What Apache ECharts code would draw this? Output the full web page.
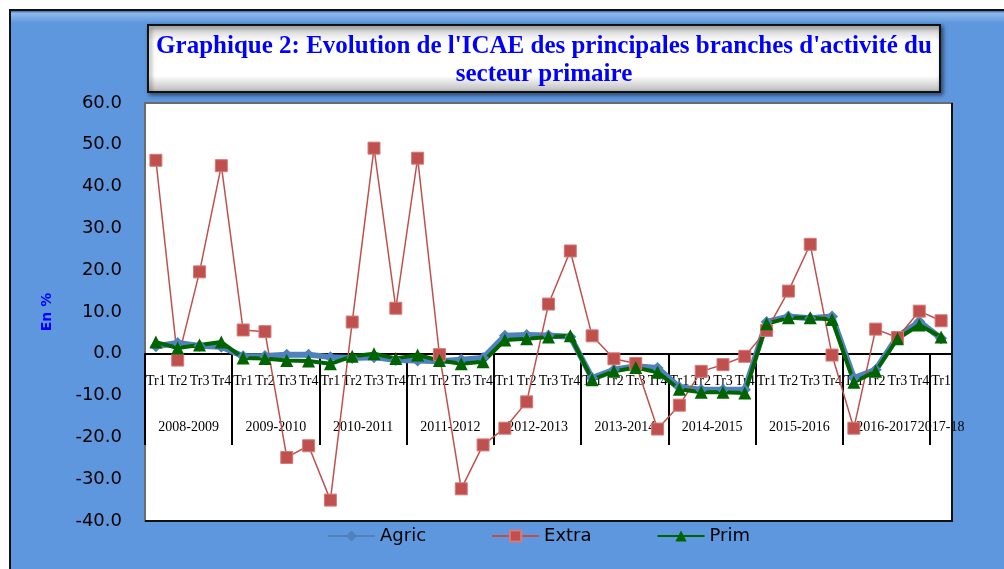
<!DOCTYPE html>
<html>
<head>
<meta charset="utf-8">
<script src="https://cdn.jsdelivr.net/npm/echarts@6/dist/echarts.min.js"></script>
<style>
  html, body { margin: 0; padding: 0; background: #fff; }
  #main { width: 1004px; height: 569px; }
</style>
</head>
<body>
<div id="main"></div>
<script>
// trimestres (axe du bas, niveau 1)
var quarters = ['Tr1','Tr2','Tr3','Tr4','Tr1','Tr2','Tr3','Tr4','Tr1','Tr2','Tr3','Tr4',
                'Tr1','Tr2','Tr3','Tr4','Tr1','Tr2','Tr3','Tr4','Tr1','Tr2','Tr3','Tr4',
                'Tr1','Tr2','Tr3','Tr4','Tr1','Tr2','Tr3','Tr4','Tr1','Tr2','Tr3','Tr4','Tr1'];
// campagnes (axe du bas, niveau 2)
var years = ['2008-2009','2009-2010','2010-2011','2011-2012','2012-2013',
             '2013-2014','2014-2015','2015-2016','2016-2017','2017-18'];

var agric = [1.8, 2.6, 1.9, 1.7, -0.6, -0.5, -0.2, -0.2, -0.8, -1.0, -0.8, -1.5,
             -1.6, -1.8, -1.4, -1.0, 4.3, 4.5, 4.4, 4.1, -5.8, -3.8, -3.0, -3.4,
             -8.0, -8.6, -8.6, -8.6, 7.6, 8.9, 8.5, 8.9, -5.8, -3.8, 4.1, 7.7, 3.7];
var extra = [46.3, -1.5, 19.6, 45.0, 5.7, 5.3, -24.8, -22.0, -35.0, 7.6, 49.2, 10.9,
             46.8, -0.2, -32.3, -21.8, -17.8, -11.5, 11.9, 24.6, 4.3, -1.2, -2.3, -18.0,
             -12.3, -4.2, -2.6, -0.6, 5.6, 15.0, 26.2, -0.3, -17.8, 5.9, 3.9, 10.2, 7.9];
var prim  = [2.8, 1.4, 2.1, 2.8, -1.0, -1.1, -1.6, -1.7, -2.4, -0.6, 0.0, -1.1,
             -0.3, -1.6, -2.4, -1.9, 3.3, 3.6, 4.0, 4.3, -6.2, -4.2, -3.3, -4.4,
             -8.5, -9.2, -9.2, -9.4, 7.2, 8.6, 8.6, 8.2, -6.8, -4.2, 3.6, 6.9, 4.0];

var yTicks = { min: -40, max: 60, step: 10 };

// second niveau : 2 demi-cases par trimestre, separateurs tous les 8
var halfSlots = [];
for (var i = 0; i <= quarters.length * 2; i++) halfSlots.push(String(i));
function yearAt(idx) {
    if (idx % 8 === 4 && idx < 72) return years[(idx - 4) / 8];
    if (idx === 73) return years[9];
    return '';
}

var blue = '#5e97de';
var serif = '"Liberation Serif", "DejaVu Serif", serif';
var myChart = echarts.init(document.getElementById('main'));

var option = {
    backgroundColor: blue,
    animation: false,
    graphic: [
        { type: 'rect', shape: { x: 0, y: 0, width: 1004, height: 10 }, style: { fill: '#fff' } },
        { type: 'rect', shape: { x: 0, y: 0, width: 10, height: 569 }, style: { fill: '#fff' } },
        { type: 'rect', shape: { x: 11, y: 11, width: 993, height: 12 },
          style: { fill: new echarts.graphic.LinearGradient(0, 0, 0, 1, [
              { offset: 0, color: '#3f6fae' }, { offset: 0.2, color: '#8fb8ec' }, { offset: 1, color: blue }]) } },
        { type: 'rect', shape: { x: 10, y: 10, width: 1000, height: 570 },
          style: { fill: null, stroke: '#111', lineWidth: 2 } },
        // cadre du titre
        { type: 'rect', shape: { x: 148, y: 25, width: 792, height: 67 },
          style: {
              fill: new echarts.graphic.LinearGradient(0, 0, 0, 1, [
                  { offset: 0, color: '#bfbfbf' }, { offset: 0.25, color: '#ffffff' },
                  { offset: 0.75, color: '#ffffff' }, { offset: 1, color: '#b5b5b5' }]),
              stroke: '#111', lineWidth: 2,
              shadowBlur: 4, shadowColor: 'rgba(0,0,0,0.5)', shadowOffsetX: 2, shadowOffsetY: 2
          } },
        { type: 'text', x: 544, y: 61,
          style: {
              text: "Graphique 2: Evolution de l'ICAE des principales branches d'activité du\nsecteur primaire",
              align: 'center', verticalAlign: 'middle',
              font: 'bold 25px ' + serif,
              lineHeight: 28, fill: '#0000ff'
          } },
        // bords droit et bas du trace en noir
        { type: 'polyline', shape: { points: [[952, 103], [952, 521], [145, 521]] },
          style: { stroke: '#111', lineWidth: 2, fill: null }, z: 10 }
    ],
    legend: {
        left: 327, top: 527, padding: 0,
        itemWidth: 47, itemHeight: 14, itemGap: 65,
        textStyle: { color: '#000', fontSize: 18, fontFamily: 'DejaVu Sans' },
        data: ['Agric', 'Extra', 'Prim']
    },
    grid: [
        { left: 145, right: 52, top: 103, bottom: 48, show: true,
          backgroundColor: '#fff', borderColor: '#6b6b6b', borderWidth: 2 },
        { left: 145, right: 52, top: 354, bottom: 124, show: false }
    ],
    xAxis: [
        {
            type: 'category', gridIndex: 0, data: quarters, boundaryGap: true,
            axisLine: { onZero: true, lineStyle: { color: '#000', width: 2 } },
            axisTick: { show: false },
            axisLabel: { show: false }
        },
        {
            type: 'category', gridIndex: 1, data: halfSlots, boundaryGap: false, position: 'bottom',
            axisLine: { show: false },
            axisTick: { show: true, inside: true, length: 91,
                        interval: function (idx) { return idx % 8 === 0; },
                        lineStyle: { color: '#000', width: 2 } },
            axisLabel: { inside: true, margin: 11, color: '#000', fontSize: 14, lineHeight: 14,
                         fontFamily: serif,
                         interval: function (idx) { return yearAt(idx) !== ''; },
                         formatter: function (v) { return yearAt(+v); } }
        },
        {
            type: 'category', gridIndex: 1, data: quarters, boundaryGap: true, position: 'top',
            axisLine: { show: false },
            axisTick: { show: false },
            axisLabel: { inside: true, interval: 0, margin: 20, color: '#000', fontSize: 14, lineHeight: 14,
                         fontFamily: serif }
        }
    ],
    yAxis: [
        {
            type: 'value', gridIndex: 0, min: yTicks.min, max: yTicks.max, interval: yTicks.step,
            name: 'En %', nameLocation: 'middle', nameGap: 91, nameRotate: 90,
            nameTextStyle: { color: '#0000ff', fontWeight: 'bold', fontSize: 14, fontFamily: 'DejaVu Sans' },
            axisLine: { show: false }, axisTick: { show: false }, splitLine: { show: false },
            axisLabel: { margin: 23, color: '#000', fontSize: 18, fontFamily: 'DejaVu Sans',
                         formatter: function (v) { return v.toFixed(1); } }
        },
        { type: 'value', gridIndex: 1, show: false }
    ],
    series: [
        {
            name: 'Agric', type: 'line', data: agric,
            symbol: 'diamond', symbolSize: 12,
            itemStyle: { color: '#4f81bd' },
            lineStyle: { color: '#4f81bd', width: 6 }
        },
        {
            name: 'Extra', type: 'line', data: extra,
            symbol: 'rect', symbolSize: 12,
            itemStyle: { color: '#c0504d', borderColor: '#d47a78', borderWidth: 1 },
            lineStyle: { color: '#c0504d', width: 1.5 }
        },
        {
            name: 'Prim', type: 'line', data: prim,
            symbol: 'triangle', symbolSize: 13,
            itemStyle: { color: '#006400' },
            lineStyle: { color: '#006400', width: 4 }
        }
    ]
};
myChart.setOption(option);
</script>
</body>
</html>
